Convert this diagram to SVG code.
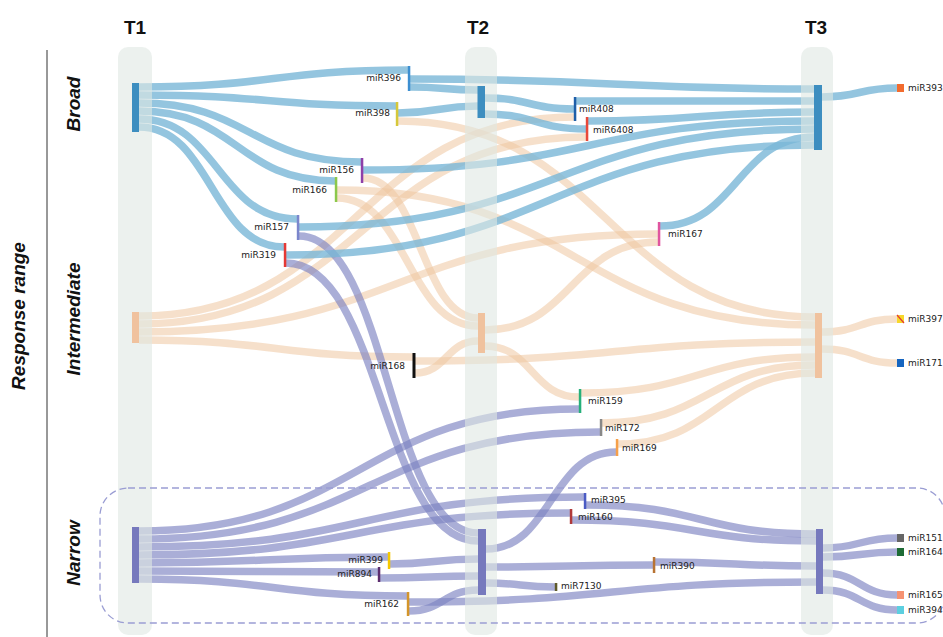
<svg xmlns="http://www.w3.org/2000/svg" width="943" height="637" viewBox="0 0 943 637">
<style>
.fb{fill:none;stroke:#79b7d7;stroke-opacity:0.8;stroke-width:7.5}
.fp{fill:none;stroke:#eec7a0;stroke-opacity:0.55;stroke-width:7.5}
.fn{fill:none;stroke:#7d82c2;stroke-opacity:0.65;stroke-width:7.5}
.col{fill:#dfe7e3;opacity:0.6}
.lbl{font-family:"DejaVu Sans",sans-serif;font-size:9px;fill:#222}
.lr{text-anchor:end}
.tl{font-family:"Liberation Sans",Arial,sans-serif;font-weight:bold;font-size:19px;text-anchor:middle;fill:#111}
.side{font-family:"Liberation Sans",Arial,sans-serif;font-weight:bold;font-style:italic;font-size:19px;text-anchor:middle;fill:#111}
.nb{fill:#3d8ec0}.np{fill:#f0c29e}.nn{fill:#7679bd}
</style>
<rect width="943" height="637" fill="#fff"/>
<g id="axis">
<line x1="47" y1="50" x2="47" y2="637" stroke="#333" stroke-width="1"/>
<text class="side" font-size="18" transform="translate(25,316) rotate(-90)">Response range</text>
<text class="side" transform="translate(80,104) rotate(-90)">Broad</text>
<text class="side" transform="translate(80,319) rotate(-90)">Intermediate</text>
<text class="side" transform="translate(80,553) rotate(-90)">Narrow</text>
<text class="tl" x="135" y="34">T1</text>
<text class="tl" x="478" y="34">T2</text>
<text class="tl" x="816" y="34">T3</text>
</g>
<g id="connectors">
<path class="fp" d="M139 316 C356.5 316 356.5 117 574 117"/>
<path class="fp" d="M139 324 C362.5 324 362.5 137 586 137"/>
<path class="fp" d="M139 332 C398.5 332 398.5 234 658 234"/>
<path class="fp" d="M139 340 C276 340 276 357 413 357"/>
<path class="fp" d="M398 121 C606.5 121 606.5 317 815 317"/>
<path class="fp" d="M363 178 C420.5 178 420.5 318 478 318"/>
<path class="fp" d="M337 190 C576 190 576 325 815 325"/>
<path class="fp" d="M337 198 C407.5 198 407.5 326 478 326"/>
<path class="fp" d="M415 361 C615 361 615 342 815 342"/>
<path class="fp" d="M415 373 C446.5 373 446.5 341 478 341"/>
<path class="fp" d="M485 330 C571.5 330 571.5 242 658 242"/>
<path class="fp" d="M485 346 C532 346 532 397 579 397"/>
<path class="fp" d="M581 393 C698 393 698 357 815 357"/>
<path class="fp" d="M602 423 C708.5 423 708.5 365 815 365"/>
<path class="fp" d="M618 444 C716.5 444 716.5 373 815 373"/>
<path class="fp" d="M822 332 C859.5 332 859.5 319 897 319"/>
<path class="fp" d="M822 349 C859.5 349 859.5 363 897 363"/>

<path class="fn" d="M299 236 C388.5 236 388.5 533 478 533"/>
<path class="fn" d="M286 263 C382 263 382 541 478 541"/>
<path class="fn" d="M139 531 C359 531 359 409 579 409"/>
<path class="fn" d="M139 539 C369.5 539 369.5 432 600 432"/>
<path class="fn" d="M139 547 C361.5 547 361.5 497 584 497"/>
<path class="fn" d="M139 555 C354.5 555 354.5 513 570 513"/>
<path class="fn" d="M139 563 C263.5 563 263.5 557 388 557"/>
<path class="fn" d="M139 571 C258.5 571 258.5 572 378 572"/>
<path class="fn" d="M139 579 C273 579 273 596 407 596"/>
<path class="fn" d="M390 564 C434 564 434 559 478 559"/>
<path class="fn" d="M380 578 C429 578 429 576 478 576"/>
<path class="fn" d="M409 611 C443.5 611 443.5 590 478 590"/>
<path class="fn" d="M409 602 C612.5 602 612.5 582 816 582"/>
<path class="fn" d="M486 549 C551 549 551 452 616 452"/>
<path class="fn" d="M486 567 C569.5 567 569.5 565 653 565"/>
<path class="fn" d="M486 583 C520.5 583 520.5 587 555 587"/>
<path class="fn" d="M586 505 C701 505 701 534 816 534"/>
<path class="fn" d="M572 520 C694 520 694 541 816 541"/>
<path class="fn" d="M655 562 C735.5 562 735.5 566 816 566"/>
<path class="fn" d="M823 548 C860 548 860 538 897 538"/>
<path class="fn" d="M823 557 C860 557 860 552 897 552"/>
<path class="fn" d="M823 573 C860 573 860 595 897 595"/>
<path class="fn" d="M823 590 C860 590 860 610 897 610"/>

<path class="fb" d="M139 87 C273.5 87 273.5 70 408 70"/>
<path class="fb" d="M139 95 C267.5 95 267.5 106 396 106"/>
<path class="fb" d="M139 103 C250 103 250 162 361 162"/>
<path class="fb" d="M139 111 C237 111 237 181 335 181"/>
<path class="fb" d="M139 119 C218 119 218 219 297 219"/>
<path class="fb" d="M139 127 C211.5 127 211.5 247 284 247"/>
<path class="fb" d="M410 79 C612 79 612 89 814 89"/>
<path class="fb" d="M410 87 C444 87 444 90 478 90"/>
<path class="fb" d="M398 113 C438 113 438 106 478 106"/>
<path class="fb" d="M485 98 C529.5 98 529.5 109 574 109"/>
<path class="fb" d="M485 114 C535.5 114 535.5 129 586 129"/>
<path class="fb" d="M576 101 C695 101 695 101 814 101"/>
<path class="fb" d="M588 121 C701 121 701 112 814 112"/>
<path class="fb" d="M363 170 C588.5 170 588.5 121 814 121"/>
<path class="fb" d="M299 227 C556.5 227 556.5 129 814 129"/>
<path class="fb" d="M286 255 C550 255 550 145 814 145"/>
<path class="fb" d="M660 226 C737 226 737 137 814 137"/>
<path class="fb" d="M822 97 C859.5 97 859.5 88 897 88"/>
</g>
<g id="columns">
<rect class="col" x="118" y="47" width="34" height="588" rx="10"/>
<rect class="col" x="465" y="47" width="32" height="588" rx="10"/>
<rect class="col" x="801" y="47" width="32" height="588" rx="10"/>
</g>
<g id="narrow-box">
<rect x="100" y="488" width="845" height="135" rx="28" fill="none" stroke="#9a9dd3" stroke-width="1.3" stroke-dasharray="7 4"/>
</g>
<g id="T1-broad"><rect class="nb" x="132" y="83" width="7" height="49"/></g>
<g id="T1-intermediate"><rect class="np" x="132" y="312" width="7" height="31"/></g>
<g id="T1-narrow"><rect class="nn" x="132" y="527" width="7" height="56"/></g>
<g id="T2-broad"><rect class="nb" x="477.5" y="86" width="7.5" height="32"/></g>
<g id="T2-intermediate"><rect class="np" x="478" y="313" width="7" height="40"/></g>
<g id="T2-narrow"><rect class="nn" x="478" y="529" width="8" height="66"/></g>
<g id="T3-broad"><rect class="nb" x="814" y="85" width="8" height="65"/></g>
<g id="T3-intermediate"><rect class="np" x="815" y="313" width="7" height="65"/></g>
<g id="T3-narrow"><rect class="nn" x="816" y="529" width="7" height="65"/></g>

<g id="miR396"><rect x="407.8" y="66" width="2.5" height="25" fill="#3d8fd1"/><text class="lbl lr" x="401" y="81">miR396</text></g>
<g id="miR398"><rect x="395.8" y="102" width="2.5" height="24" fill="#d6c83a"/><text class="lbl lr" x="390" y="116">miR398</text></g>
<g id="miR156"><rect x="360.8" y="158" width="2.5" height="25" fill="#8e3fa8"/><text class="lbl lr" x="354" y="173">miR156</text></g>
<g id="miR166"><rect x="334.8" y="177" width="2.5" height="25" fill="#8cc84b"/><text class="lbl lr" x="327" y="193">miR166</text></g>
<g id="miR157"><rect x="296.8" y="215" width="2.5" height="25" fill="#7b86cc"/><text class="lbl lr" x="289" y="230">miR157</text></g>
<g id="miR319"><rect x="283.8" y="243" width="2.5" height="24" fill="#e53935"/><text class="lbl lr" x="276" y="258">miR319</text></g>
<g id="miR168"><rect x="412.5" y="353" width="3" height="25" fill="#111"/><text class="lbl lr" x="405" y="369">miR168</text></g>
<g id="miR408"><rect x="573.8" y="97" width="2.5" height="24" fill="#1f5fa8"/><text class="lbl" x="579" y="112">miR408</text></g>
<g id="miR6408"><rect x="585.8" y="117" width="2.5" height="24" fill="#e8483a"/><text class="lbl" x="593" y="133">miR6408</text></g>
<g id="miR167"><rect x="657.8" y="222" width="2.5" height="24" fill="#e0559f"/><text class="lbl" x="668" y="237">miR167</text></g>
<g id="miR159"><rect x="578.8" y="389" width="2.5" height="24" fill="#26b07a"/><text class="lbl" x="588" y="404">miR159</text></g>
<g id="miR172"><rect x="599.8" y="419" width="2.5" height="17" fill="#888"/><text class="lbl" x="605" y="431">miR172</text></g>
<g id="miR169"><rect x="615.8" y="439" width="2.5" height="17" fill="#f5a04a"/><text class="lbl" x="622" y="451">miR169</text></g>
<g id="miR395"><rect x="583.8" y="493" width="2.5" height="16" fill="#4a5bc4"/><text class="lbl" x="591" y="503">miR395</text></g>
<g id="miR160"><rect x="569.8" y="509" width="2.5" height="15" fill="#b03a3a"/><text class="lbl" x="578" y="520">miR160</text></g>
<g id="miR390"><rect x="652.8" y="557" width="2.5" height="16" fill="#b87333"/><text class="lbl" x="660" y="569">miR390</text></g>
<g id="miR7130"><rect x="554.8" y="583" width="2.5" height="8" fill="#5f5a2a"/><text class="lbl" x="561" y="589">miR7130</text></g>
<g id="miR399"><rect x="387.8" y="552" width="2.5" height="17" fill="#f5c800"/><text class="lbl lr" x="383" y="563">miR399</text></g>
<g id="miR894"><rect x="377.8" y="567" width="2.5" height="15" fill="#5c2d6e"/><text class="lbl lr" x="372" y="577">miR894</text></g>
<g id="miR162"><rect x="406.8" y="592" width="2.5" height="24" fill="#d4952a"/><text class="lbl lr" x="399" y="607">miR162</text></g>

<g id="miR393"><rect x="897" y="84" width="7" height="8" fill="#f26b2e"/><text class="lbl" x="908" y="91">miR393</text></g>
<g id="miR397"><rect x="897" y="315" width="7" height="8" fill="#f7d82a"/><line x1="897" y1="315" x2="904" y2="323" stroke="#e53935" stroke-width="1.2"/><text class="lbl" x="908" y="322">miR397</text></g>
<g id="miR171"><rect x="897" y="359" width="7" height="8" fill="#1565c0"/><text class="lbl" x="908" y="366">miR171</text></g>
<g id="miR1515"><rect x="897" y="534" width="7" height="8" fill="#666"/><text class="lbl" x="908" y="541">miR1515</text></g>
<g id="miR164"><rect x="897" y="548" width="7" height="8" fill="#1e6b35"/><text class="lbl" x="908" y="555">miR164</text></g>
<g id="miR165"><rect x="897" y="591" width="7" height="8" fill="#f59272"/><text class="lbl" x="908" y="598">miR165</text></g>
<g id="miR394"><rect x="897" y="606" width="7" height="8" fill="#5ccfe0"/><text class="lbl" x="908" y="613">miR394</text></g>
</svg>
